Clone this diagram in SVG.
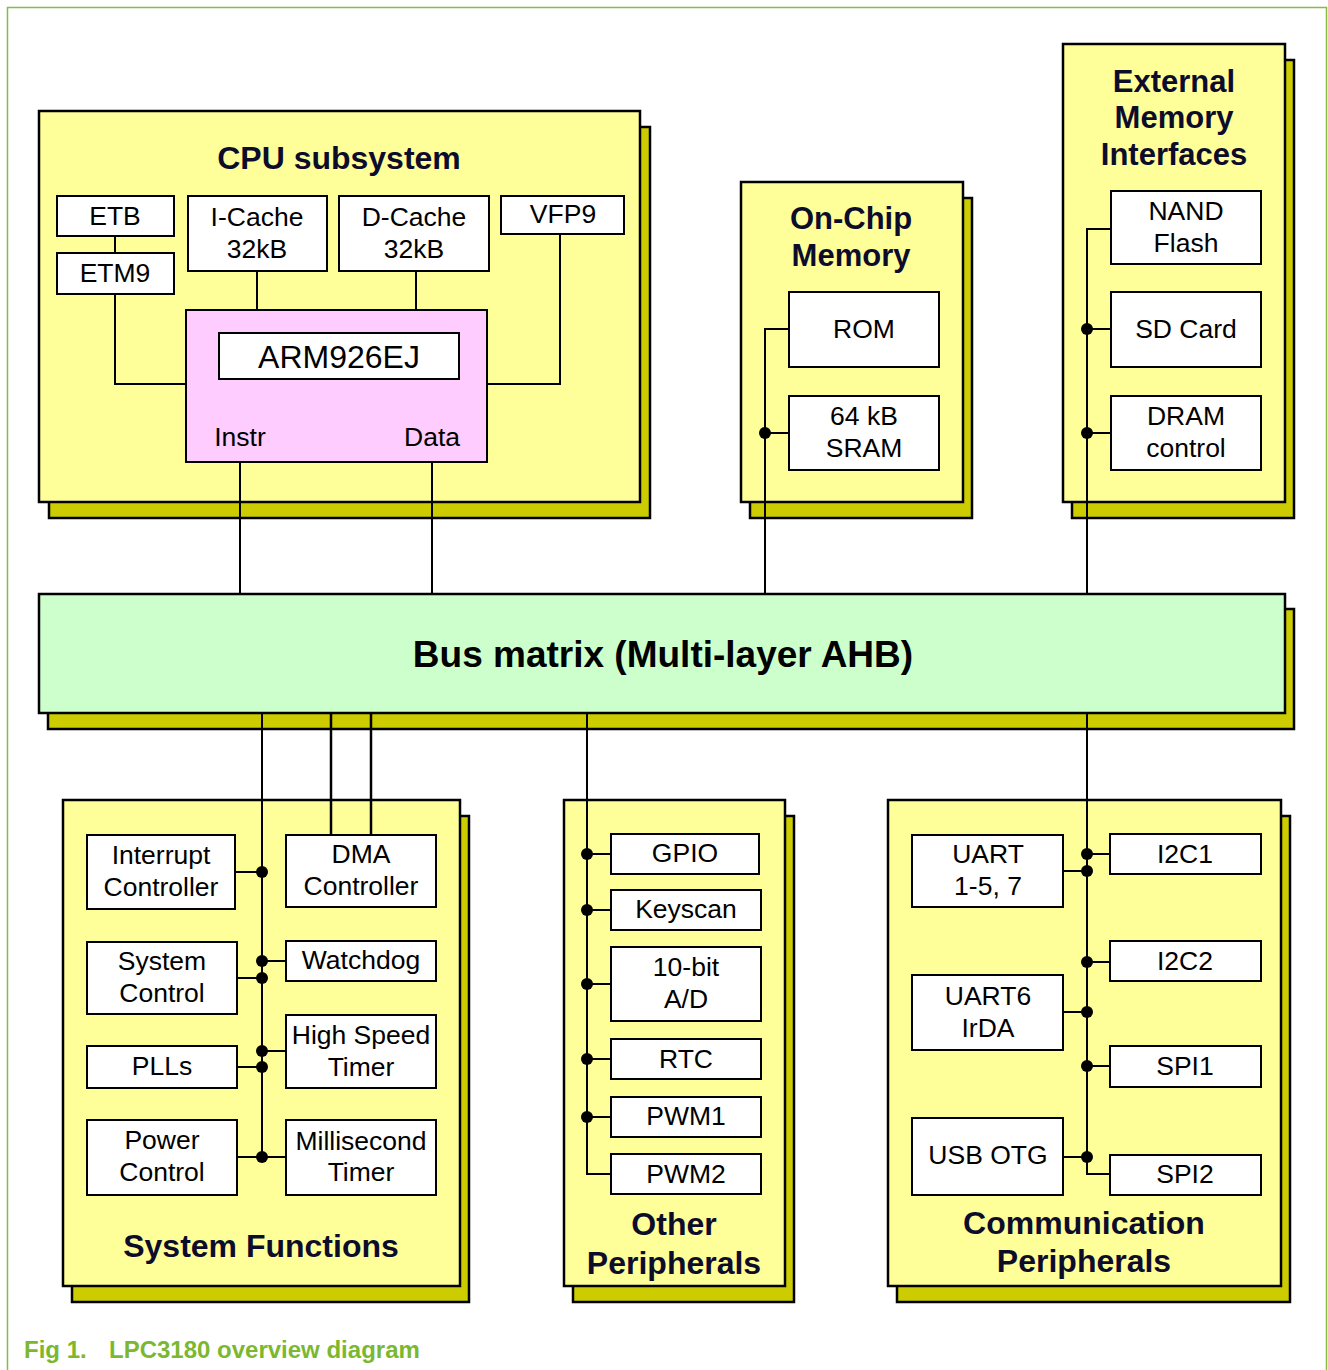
<svg xmlns="http://www.w3.org/2000/svg" width="1328" height="1370" viewBox="0 0 1328 1370">
<style>
.panel{fill:#ffff99;stroke:#000;stroke-width:2.5}
.shadow{fill:#cccc00;stroke:#000;stroke-width:2.5}
.box{fill:#fff;stroke:#000;stroke-width:2}
.lbl{font-family:"Liberation Sans",Arial,sans-serif;font-size:26.5px;fill:#000;text-anchor:middle}
.ttl{font-family:"Liberation Sans",Arial,sans-serif;font-size:31px;font-weight:bold;fill:#0d0d2b;text-anchor:middle}
.ttl2{font-family:"Liberation Sans",Arial,sans-serif;font-size:32px;font-weight:bold;fill:#0d0d2b;text-anchor:middle}
.wire{fill:none;stroke:#000;stroke-width:2}
.dot{fill:#000}
</style>
<rect width="1328" height="1370" fill="#fff"/>
<path d="M7.5,1370 V7.5 H1326.5 V1370" fill="none" stroke="#86bd40" stroke-width="1.5"/>

<!-- shadows -->
<g id="shadows">
<rect class="shadow" x="49" y="127" width="601" height="391"/>
<rect class="shadow" x="750" y="198" width="222" height="320"/>
<rect class="shadow" x="1072" y="60" width="222" height="458"/>
<rect class="shadow" x="48" y="609" width="1246" height="120"/>
<rect class="shadow" x="72" y="816" width="397" height="486"/>
<rect class="shadow" x="573" y="816" width="221" height="486"/>
<rect class="shadow" x="897" y="816" width="393" height="486"/>
</g>

<!-- panels -->
<g id="cpu-subsystem">
<rect class="panel" x="39" y="111" width="601" height="391"/>
<text class="ttl2" x="339" y="169">CPU subsystem</text>
</g>
<g id="on-chip-memory">
<rect class="panel" x="741" y="182" width="222" height="320"/>
<text class="ttl" x="851" y="229">On-Chip</text>
<text class="ttl" x="851" y="266">Memory</text>
</g>
<g id="external-memory">
<rect class="panel" x="1063" y="44" width="222" height="458"/>
<text class="ttl" x="1174" y="92">External</text>
<text class="ttl" x="1174" y="128">Memory</text>
<text class="ttl" x="1174" y="165">Interfaces</text>
</g>
<g id="system-functions">
<rect class="panel" x="63" y="800" width="397" height="486"/>
<text class="ttl2" x="261" y="1257">System Functions</text>
</g>
<g id="other-peripherals">
<rect class="panel" x="564" y="800" width="221" height="486"/>
<text class="ttl2" x="674" y="1235">Other</text>
<text class="ttl2" x="674" y="1274">Peripherals</text>
</g>
<g id="communication-peripherals">
<rect class="panel" x="888" y="800" width="393" height="486"/>
<text class="ttl2" x="1084" y="1234">Communication</text>
<text class="ttl2" x="1084" y="1272">Peripherals</text>
</g>

<!-- connectors -->
<g id="connectors">
<path class="wire" d="M115,236 V253"/>
<path class="wire" d="M257,271 V310"/>
<path class="wire" d="M416,271 V310"/>
<path class="wire" d="M115,294 V384 H186"/>
<path class="wire" d="M560,234 V384 H487"/>
<path class="wire" d="M240,462 V594"/>
<path class="wire" d="M432,462 V594"/>
<path class="wire" d="M789,329 H765 V594"/>
<path class="wire" d="M765,433 H789"/>
<path class="wire" d="M1111,229 H1087 V594"/>
<path class="wire" d="M1087,329 H1111"/>
<path class="wire" d="M1087,433 H1111"/>
<path class="wire" d="M262,713 V1157"/>
<path class="wire" d="M331,713 V835" style="stroke-width:2.5"/>
<path class="wire" d="M371,713 V835" style="stroke-width:2.5"/>
<path class="wire" d="M235,872 H262"/>
<path class="wire" d="M237,978 H262"/>
<path class="wire" d="M262,961 H286"/>
<path class="wire" d="M262,1051 H286"/>
<path class="wire" d="M237,1067 H262"/>
<path class="wire" d="M237,1157 H286"/>
<path class="wire" d="M587,713 V1174 H611"/>
<path class="wire" d="M587,854 H611 M587,910 H611 M587,984 H611 M587,1059 H611 M587,1117 H611"/>
<path class="wire" d="M1087,713 V1174 H1110"/>
<path class="wire" d="M1087,854 H1110 M1063,871 H1087 M1087,962 H1110 M1063,1012 H1087 M1087,1066 H1110 M1063,1157 H1087"/>
<circle class="dot" cx="765" cy="433" r="6"/>
<circle class="dot" cx="1087" cy="329" r="6"/>
<circle class="dot" cx="1087" cy="433" r="6"/>
<circle class="dot" cx="262" cy="872" r="6"/>
<circle class="dot" cx="262" cy="961" r="6"/>
<circle class="dot" cx="262" cy="978" r="6"/>
<circle class="dot" cx="262" cy="1051" r="6"/>
<circle class="dot" cx="262" cy="1067" r="6"/>
<circle class="dot" cx="262" cy="1157" r="6"/>
<circle class="dot" cx="587" cy="854" r="6"/>
<circle class="dot" cx="587" cy="910" r="6"/>
<circle class="dot" cx="587" cy="984" r="6"/>
<circle class="dot" cx="587" cy="1059" r="6"/>
<circle class="dot" cx="587" cy="1117" r="6"/>
<circle class="dot" cx="1087" cy="854" r="6"/>
<circle class="dot" cx="1087" cy="871" r="6"/>
<circle class="dot" cx="1087" cy="962" r="6"/>
<circle class="dot" cx="1087" cy="1012" r="6"/>
<circle class="dot" cx="1087" cy="1066" r="6"/>
<circle class="dot" cx="1087" cy="1157" r="6"/>
</g>

<!-- bus -->
<g id="bus-matrix">
<rect x="39" y="594" width="1246" height="119" fill="#ccffcc" stroke="#000" stroke-width="2.5"/>
<text class="ttl" x="663" y="667" style="font-size:37px;fill:#000">Bus matrix (Multi-layer AHB)</text>
</g>

<!-- CPU nodes -->
<g id="etb"><rect class="box" x="57" y="196" width="117" height="40"/><text class="lbl" x="115" y="225">ETB</text></g>
<g id="etm9"><rect class="box" x="57" y="253" width="117" height="41"/><text class="lbl" x="115" y="282">ETM9</text></g>
<g id="icache"><rect class="box" x="188" y="196" width="139" height="75"/><text class="lbl" x="257" y="226">I-Cache</text><text class="lbl" x="257" y="258">32kB</text></g>
<g id="dcache"><rect class="box" x="339" y="196" width="150" height="75"/><text class="lbl" x="414" y="226">D-Cache</text><text class="lbl" x="414" y="258">32kB</text></g>
<g id="vfp9"><rect class="box" x="501" y="196" width="123" height="38"/><text class="lbl" x="563" y="223">VFP9</text></g>
<g id="arm926ej">
<rect x="186" y="310" width="301" height="152" fill="#ffccff" stroke="#000" stroke-width="2"/>
<rect class="box" x="219" y="333" width="240" height="46"/>
<text class="lbl" x="339" y="368" style="font-size:32px">ARM926EJ</text>
<text class="lbl" x="240" y="446">Instr</text>
<text class="lbl" x="432" y="446">Data</text>
</g>

<!-- memory nodes -->
<g id="rom"><rect class="box" x="789" y="292" width="150" height="75"/><text class="lbl" x="864" y="338">ROM</text></g>
<g id="sram"><rect class="box" x="789" y="396" width="150" height="74"/><text class="lbl" x="864" y="425">64 kB</text><text class="lbl" x="864" y="457">SRAM</text></g>
<g id="nand"><rect class="box" x="1111" y="191" width="150" height="73"/><text class="lbl" x="1186" y="220">NAND</text><text class="lbl" x="1186" y="252">Flash</text></g>
<g id="sdcard"><rect class="box" x="1111" y="292" width="150" height="75"/><text class="lbl" x="1186" y="338">SD Card</text></g>
<g id="dram"><rect class="box" x="1111" y="396" width="150" height="74"/><text class="lbl" x="1186" y="425">DRAM</text><text class="lbl" x="1186" y="457">control</text></g>

<!-- system functions nodes -->
<g id="interrupt"><rect class="box" x="87" y="835" width="148" height="74"/><text class="lbl" x="161" y="864">Interrupt</text><text class="lbl" x="161" y="896">Controller</text></g>
<g id="dma"><rect class="box" x="286" y="835" width="150" height="72"/><text class="lbl" x="361" y="863">DMA</text><text class="lbl" x="361" y="895">Controller</text></g>
<g id="sysctrl"><rect class="box" x="87" y="942" width="150" height="72"/><text class="lbl" x="162" y="970">System</text><text class="lbl" x="162" y="1002">Control</text></g>
<g id="watchdog"><rect class="box" x="286" y="941" width="150" height="40"/><text class="lbl" x="361" y="969">Watchdog</text></g>
<g id="hstimer"><rect class="box" x="286" y="1015" width="150" height="73"/><text class="lbl" x="361" y="1044">High Speed</text><text class="lbl" x="361" y="1076">Timer</text></g>
<g id="plls"><rect class="box" x="87" y="1046" width="150" height="42"/><text class="lbl" x="162" y="1075">PLLs</text></g>
<g id="power"><rect class="box" x="87" y="1120" width="150" height="75"/><text class="lbl" x="162" y="1149">Power</text><text class="lbl" x="162" y="1181">Control</text></g>
<g id="mstimer"><rect class="box" x="286" y="1120" width="150" height="75"/><text class="lbl" x="361" y="1150">Millisecond</text><text class="lbl" x="361" y="1181">Timer</text></g>

<!-- other peripherals nodes -->
<g id="gpio"><rect class="box" x="611" y="834" width="148" height="40"/><text class="lbl" x="685" y="862">GPIO</text></g>
<g id="keyscan"><rect class="box" x="611" y="890" width="150" height="40"/><text class="lbl" x="686" y="918">Keyscan</text></g>
<g id="adc"><rect class="box" x="611" y="947" width="150" height="74"/><text class="lbl" x="686" y="976">10-bit</text><text class="lbl" x="686" y="1008">A/D</text></g>
<g id="rtc"><rect class="box" x="611" y="1039" width="150" height="40"/><text class="lbl" x="686" y="1068">RTC</text></g>
<g id="pwm1"><rect class="box" x="611" y="1097" width="150" height="40"/><text class="lbl" x="686" y="1125">PWM1</text></g>
<g id="pwm2"><rect class="box" x="611" y="1154" width="150" height="40"/><text class="lbl" x="686" y="1183">PWM2</text></g>

<!-- comm nodes -->
<g id="uart"><rect class="box" x="912" y="835" width="151" height="72"/><text class="lbl" x="988" y="863">UART</text><text class="lbl" x="988" y="895">1-5, 7</text></g>
<g id="i2c1"><rect class="box" x="1110" y="834" width="151" height="40"/><text class="lbl" x="1185" y="863">I2C1</text></g>
<g id="i2c2"><rect class="box" x="1110" y="941" width="151" height="40"/><text class="lbl" x="1185" y="970">I2C2</text></g>
<g id="uart6"><rect class="box" x="912" y="975" width="151" height="75"/><text class="lbl" x="988" y="1005">UART6</text><text class="lbl" x="988" y="1037">IrDA</text></g>
<g id="spi1"><rect class="box" x="1110" y="1046" width="151" height="41"/><text class="lbl" x="1185" y="1075">SPI1</text></g>
<g id="usbotg"><rect class="box" x="912" y="1118" width="151" height="77"/><text class="lbl" x="988" y="1164">USB OTG</text></g>
<g id="spi2"><rect class="box" x="1110" y="1155" width="151" height="40"/><text class="lbl" x="1185" y="1183">SPI2</text></g>

<text font-family="'Liberation Sans',Arial,sans-serif" font-size="24" font-weight="bold" fill="#7cb82f" y="1358"><tspan x="24">Fig 1.</tspan><tspan x="109">LPC3180 overview diagram</tspan></text>
</svg>
